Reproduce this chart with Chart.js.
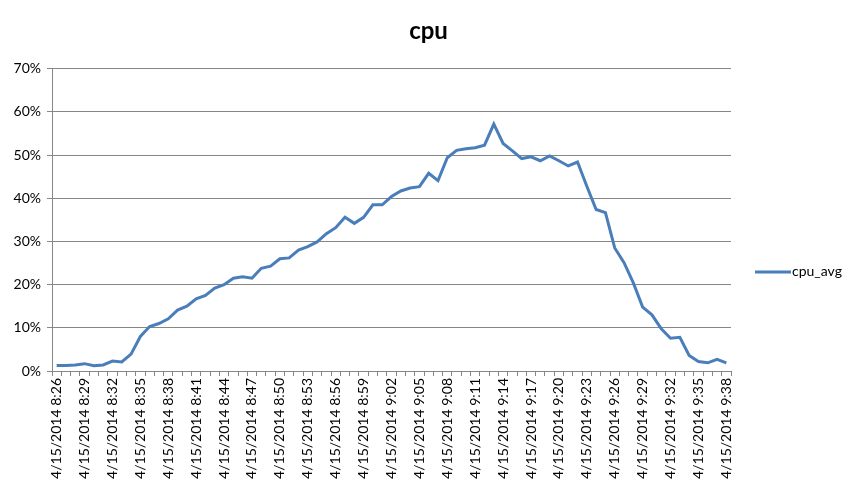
<!DOCTYPE html>
<html>
<head>
    <title>cpu</title>
    <script src="https://cdn.jsdelivr.net/npm/chart.js"></script>
    <style>
        body {
            margin: 0;
            background-color: #ffffff;
        }

        .chart-box {
            width: 857px;
            height: 494px;
        }
    </style>
</head>
<body>
    <div class="chart-box">
        <canvas id="cpuChart"></canvas>
    </div>

    <script>
        var datePrefix = '4/15/2014 ';
        var times = [
            '8:26', '8:27', '8:28', '8:29', '8:30', '8:31', '8:32', '8:33', '8:34', '8:35',
            '8:36', '8:37', '8:38', '8:39', '8:40', '8:41', '8:42', '8:43', '8:44', '8:45',
            '8:46', '8:47', '8:48', '8:49', '8:50', '8:51', '8:52', '8:53', '8:54', '8:55',
            '8:56', '8:57', '8:58', '8:59', '9:00', '9:01', '9:02', '9:03', '9:04', '9:05',
            '9:06', '9:07', '9:08', '9:09', '9:10', '9:11', '9:12', '9:13', '9:14', '9:15',
            '9:16', '9:17', '9:18', '9:19', '9:20', '9:21', '9:22', '9:23', '9:24', '9:25',
            '9:26', '9:27', '9:28', '9:29', '9:30', '9:31', '9:32', '9:33', '9:34', '9:35',
            '9:36', '9:37', '9:38'
        ];
        // cpu_avg in percent
        var cpuAvg = [
            1.3, 1.3, 1.4, 1.7, 1.2, 1.4, 2.3, 2.1, 3.9, 8.0,
            10.3, 11.0, 12.1, 14.1, 15.0, 16.7, 17.5, 19.2, 20.0, 21.5,
            21.8, 21.5, 23.8, 24.3, 26.0, 26.2, 28.0, 28.8, 29.9, 31.8,
            33.2, 35.6, 34.2, 35.6, 38.5, 38.5, 40.4, 41.7, 42.4, 42.7,
            45.8, 44.1, 49.4, 51.1, 51.5, 51.7, 52.3, 57.2, 52.7, 51.0,
            49.2, 49.6, 48.7, 49.8, 48.7, 47.5, 48.4, 42.8, 37.4, 36.7,
            28.5, 25.1, 20.4, 14.8, 13.0, 9.8, 7.6, 7.8, 3.6, 2.2,
            1.9, 2.7, 1.9
        ];
        var yTicks = [0, 10, 20, 30, 40, 50, 60, 70];

        var labels = times.map(function (t) { return datePrefix + t; });
        var lineColor = '#4A7EBB';
        var gridColor = '#868686';

        // legend drawn Excel-style to the right of the plot
        var sideLegend = {
            id: 'sideLegend',
            afterDraw: function (chart) {
                var ctx = chart.ctx;
                var x = chart.chartArea.right + 24;
                var y = 272;
                ctx.save();
                ctx.strokeStyle = lineColor;
                ctx.lineWidth = 3;
                ctx.beginPath();
                ctx.moveTo(x, y);
                ctx.lineTo(x + 36, y);
                ctx.stroke();
                ctx.fillStyle = '#000000';
                ctx.font = '14px Lato';
                ctx.textBaseline = 'middle';
                ctx.fillText('cpu_avg', x + 37, y - 1);
                ctx.restore();
            }
        };

        var ctx = document.getElementById('cpuChart').getContext('2d');
        var cpuChart = new Chart(ctx, {
            type: 'line',
            data: {
                labels: labels,
                datasets: [{
                    label: 'cpu_avg',
                    data: cpuAvg,
                    borderColor: lineColor,
                    backgroundColor: lineColor,
                    borderWidth: 3,
                    pointRadius: 0,
                    tension: 0
                }]
            },
            options: {
                responsive: true,
                maintainAspectRatio: false,
                animation: false,
                layout: {
                    padding: 0
                },
                plugins: {
                    legend: { display: false },
                    tooltip: { enabled: false },
                    title: {
                        display: true,
                        text: 'cpu',
                        color: '#000000',
                        font: { family: 'Lato', size: 24, weight: 'bold' },
                        padding: { top: 17, bottom: 23 }
                    }
                },
                scales: {
                    x: {
                        offset: true,
                        grid: {
                            offset: true,
                            drawOnChartArea: false,
                            drawTicks: true,
                            tickLength: 5,
                            color: gridColor
                        },
                        border: { color: gridColor },
                        ticks: {
                            autoSkip: false,
                            minRotation: 90,
                            maxRotation: 90,
                            padding: 2,
                            color: '#000000',
                            font: { family: 'Lato', size: 14 },
                            callback: function (value, index) {
                                return index % 3 === 0 ? this.getLabelForValue(value) : '';
                            }
                        },
                        afterFit: function (scale) {
                            scale.height = 123;
                        }
                    },
                    y: {
                        min: 0,
                        max: 70,
                        afterBuildTicks: function (scale) {
                            scale.ticks = yTicks.map(function (v) { return { value: v }; });
                        },
                        grid: {
                            color: gridColor,
                            tickLength: 5
                        },
                        border: { color: gridColor },
                        ticks: {
                            padding: 6,
                            color: '#000000',
                            font: { family: 'Lato', size: 14 },
                            callback: function (value) { return value + '%'; }
                        },
                        afterFit: function (scale) {
                            scale.width = 52;
                        }
                    },
                    // empty right-hand axis that only reserves room for the legend
                    side: {
                        position: 'right',
                        min: 0,
                        max: 70,
                        grid: { display: false, drawTicks: false },
                        border: { display: false },
                        ticks: { display: false },
                        afterFit: function (scale) {
                            scale.width = 126;
                        }
                    }
                }
            },
            plugins: [sideLegend]
        });
    </script>
</body>
</html>
